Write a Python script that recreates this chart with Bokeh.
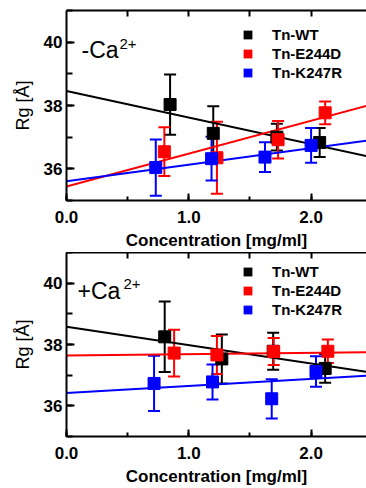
import numpy as np
from bokeh.plotting import figure
from bokeh.models import (ColumnDataSource, Whisker, TeeHead, Range1d, LinearAxis,
                          SingleIntervalTicker, FixedTicker, PrintfTickFormatter, Label,
                          Legend, LegendItem)
from bokeh.layouts import column
from bokeh.embed import file_html
from bokeh.resources import INLINE

# ---------------- data ----------------
series_names = ["Tn-WT", "Tn-E244D", "Tn-K247R"]
series_colors = ["#000000", "#ff0000", "#0000ff"]

# -Ca2+ panel
noca_wt_x = [0.847, 1.20, 1.72, 2.07]
noca_wt_y = [38.03, 37.12, 37.00, 36.83]
noca_wt_err = [0.95, 0.86, 0.42, 0.46]
noca_e244d_x = [0.80, 1.23, 1.73, 2.115]
noca_e244d_y = [36.54, 36.35, 36.92, 37.77]
noca_e244d_err = [0.77, 1.14, 0.59, 0.36]
noca_k247r_x = [0.73, 1.186, 1.623, 2.00]
noca_k247r_y = [36.04, 36.32, 36.37, 36.74]
noca_k247r_err = [0.89, 0.69, 0.47, 0.55]
noca_fit_intercept = [38.46, 35.44, 35.61]
noca_fit_slope = [-0.84, 1.04, 0.52]

# +Ca2+ panel
ca_wt_x = [0.803, 1.27, 1.69, 2.115]
ca_wt_y = [38.25, 37.53, 37.78, 37.22]
ca_wt_err = [1.15, 0.80, 0.60, 0.47]
ca_e244d_x = [0.88, 1.23, 1.694, 2.137]
ca_e244d_y = [37.72, 37.66, 37.77, 37.78]
ca_e244d_err = [0.76, 0.62, 0.44, 0.38]
ca_k247r_x = [0.716, 1.194, 1.678, 2.04]
ca_k247r_y = [36.73, 36.78, 36.23, 37.12]
ca_k247r_err = [0.90, 0.57, 0.64, 0.50]
ca_fit_intercept = [38.58, 37.64, 36.42]
ca_fit_slope = [-0.60, 0.045, 0.23]

top_minor_ticks = [0.5, 1.0, 1.5, 2.0]
x_title = "Concentration [mg/ml]"
y_title = "Rg [Å]"

X_START, X_END = 0.0, 2.453
Y_START, Y_END = 35.0, 41.0
FONT = "Liberation Sans"


def style_axis(ax, tick_in=8, minor_in=5):
    ax.axis_line_width = 2
    ax.axis_line_color = "black"
    ax.major_tick_in = tick_in
    ax.major_tick_out = 0
    ax.minor_tick_in = minor_in
    ax.minor_tick_out = 0
    ax.major_tick_line_width = 2
    ax.minor_tick_line_width = 2
    ax.major_tick_line_color = "black"
    ax.minor_tick_line_color = "black"
    ax.major_label_text_font = FONT
    ax.major_label_text_font_style = "bold"
    ax.major_label_text_font_size = "17px"
    ax.major_label_text_color = "black"


def make_panel(xs, ys, errs, intercepts, slopes, sign, height, btop, bbottom,
               tag_top, sup_top, tag_x, sup_x):
    p = figure(width=366, height=height,
               x_range=Range1d(X_START, X_END), y_range=Range1d(Y_START, Y_END),
               output_backend="svg", toolbar_location=None,
               min_border_left=66, min_border_right=0,
               min_border_top=btop, min_border_bottom=bbottom)
    p.outline_line_color = None
    p.grid.visible = False

    xa = p.xaxis[0]
    xa.ticker = SingleIntervalTicker(interval=1, num_minor_ticks=2)
    xa.formatter = PrintfTickFormatter(format="%.1f")
    style_axis(xa, tick_in=7, minor_in=4)
    xa.major_label_standoff = 10
    xa.axis_label = x_title
    xa.axis_label_text_font = FONT
    xa.axis_label_text_font_style = "bold"
    xa.axis_label_text_font_size = "17px"
    xa.axis_label_text_color = "black"
    xa.axis_label_standoff = 5

    ya = p.yaxis[0]
    ya.ticker = SingleIntervalTicker(interval=2, num_minor_ticks=2)
    style_axis(ya, tick_in=8, minor_in=6)
    ya.major_label_standoff = 4
    ya.axis_label = y_title
    ya.axis_label_text_font = FONT
    ya.axis_label_text_font_style = "normal"
    ya.axis_label_text_font_size = "18px"
    ya.axis_label_text_color = "black"
    ya.axis_label_standoff = 8

    top = LinearAxis(ticker=FixedTicker(ticks=[], minor_ticks=top_minor_ticks))
    style_axis(top, tick_in=7, minor_in=6)
    top.major_label_standoff = 0
    p.add_layout(top, "above")

    fit_x = np.array([X_START, X_END])
    for i, c in enumerate(series_colors):
        fy = intercepts[i] + slopes[i] * fit_x
        p.line(fit_x, fy, line_color=c, line_width=2)

    for i, c in enumerate(series_colors):
        x = np.array(xs[i]); y = np.array(ys[i]); e = np.array(errs[i])
        src = ColumnDataSource(dict(x=x, y=y, lo=y - e, hi=y + e))
        w = Whisker(base="x", upper="hi", lower="lo", source=src,
                    line_color=c, line_width=2,
                    upper_head=TeeHead(size=12, line_color=c, line_width=2),
                    lower_head=TeeHead(size=12, line_color=c, line_width=2))
        p.add_layout(w)
        p.scatter("x", "y", source=src, marker="square", size=12,
                  fill_color=c, line_color=c)

    # legend proxies (NaN data: nothing drawn in the plot area)
    proxies = []
    for c in series_colors:
        r = p.rect(x=[np.nan], y=[np.nan], width=1, height=1, fill_color=c, line_color=None)
        proxies.append(r)
    fh = height - btop - bbottom
    leg = Legend(items=[LegendItem(label=n, renderers=[r]) for n, r in zip(series_names, proxies)],
                 location=(176, fh - 71), orientation="vertical",
                 glyph_width=11, glyph_height=11, label_height=18, label_standoff=19,
                 spacing=1, padding=0, margin=0, border_line_color=None,
                 background_fill_alpha=0,
                 label_text_font=FONT, label_text_font_style="bold",
                 label_text_font_size="15px", label_text_color="black")
    p.add_layout(leg)

    # panel tag  (-/+)Ca^2+
    p.add_layout(Label(x=tag_x, y=fh - tag_top, x_units="screen", y_units="screen",
                       text=sign + "Ca", text_font=FONT, text_font_size="23px",
                       text_color="black", text_baseline="alphabetic"))
    p.add_layout(Label(x=sup_x, y=fh - sup_top, x_units="screen", y_units="screen", text="2+",
                       text_font=FONT, text_font_size="15px", text_color="black",
                       text_baseline="alphabetic"))
    return p


TOP_H = 252
BOT_H = 488 - TOP_H

p1 = make_panel([noca_wt_x, noca_e244d_x, noca_k247r_x],
                [noca_wt_y, noca_e244d_y, noca_k247r_y],
                [noca_wt_err, noca_e244d_err, noca_k247r_err],
                noca_fit_intercept, noca_fit_slope, "-", TOP_H, 10, 52,
                tag_top=39, sup_top=33, tag_x=15, sup_x=53)
p2 = make_panel([ca_wt_x, ca_e244d_x, ca_k247r_x],
                [ca_wt_y, ca_e244d_y, ca_k247r_y],
                [ca_wt_err, ca_e244d_err, ca_k247r_err],
                ca_fit_intercept, ca_fit_slope, "+", BOT_H, 0, 47,
                tag_top=43, sup_top=36, tag_x=11, sup_x=57)

layout = column(p1, p2, spacing=0)
open("out.html", "w").write(file_html(layout, INLINE))
